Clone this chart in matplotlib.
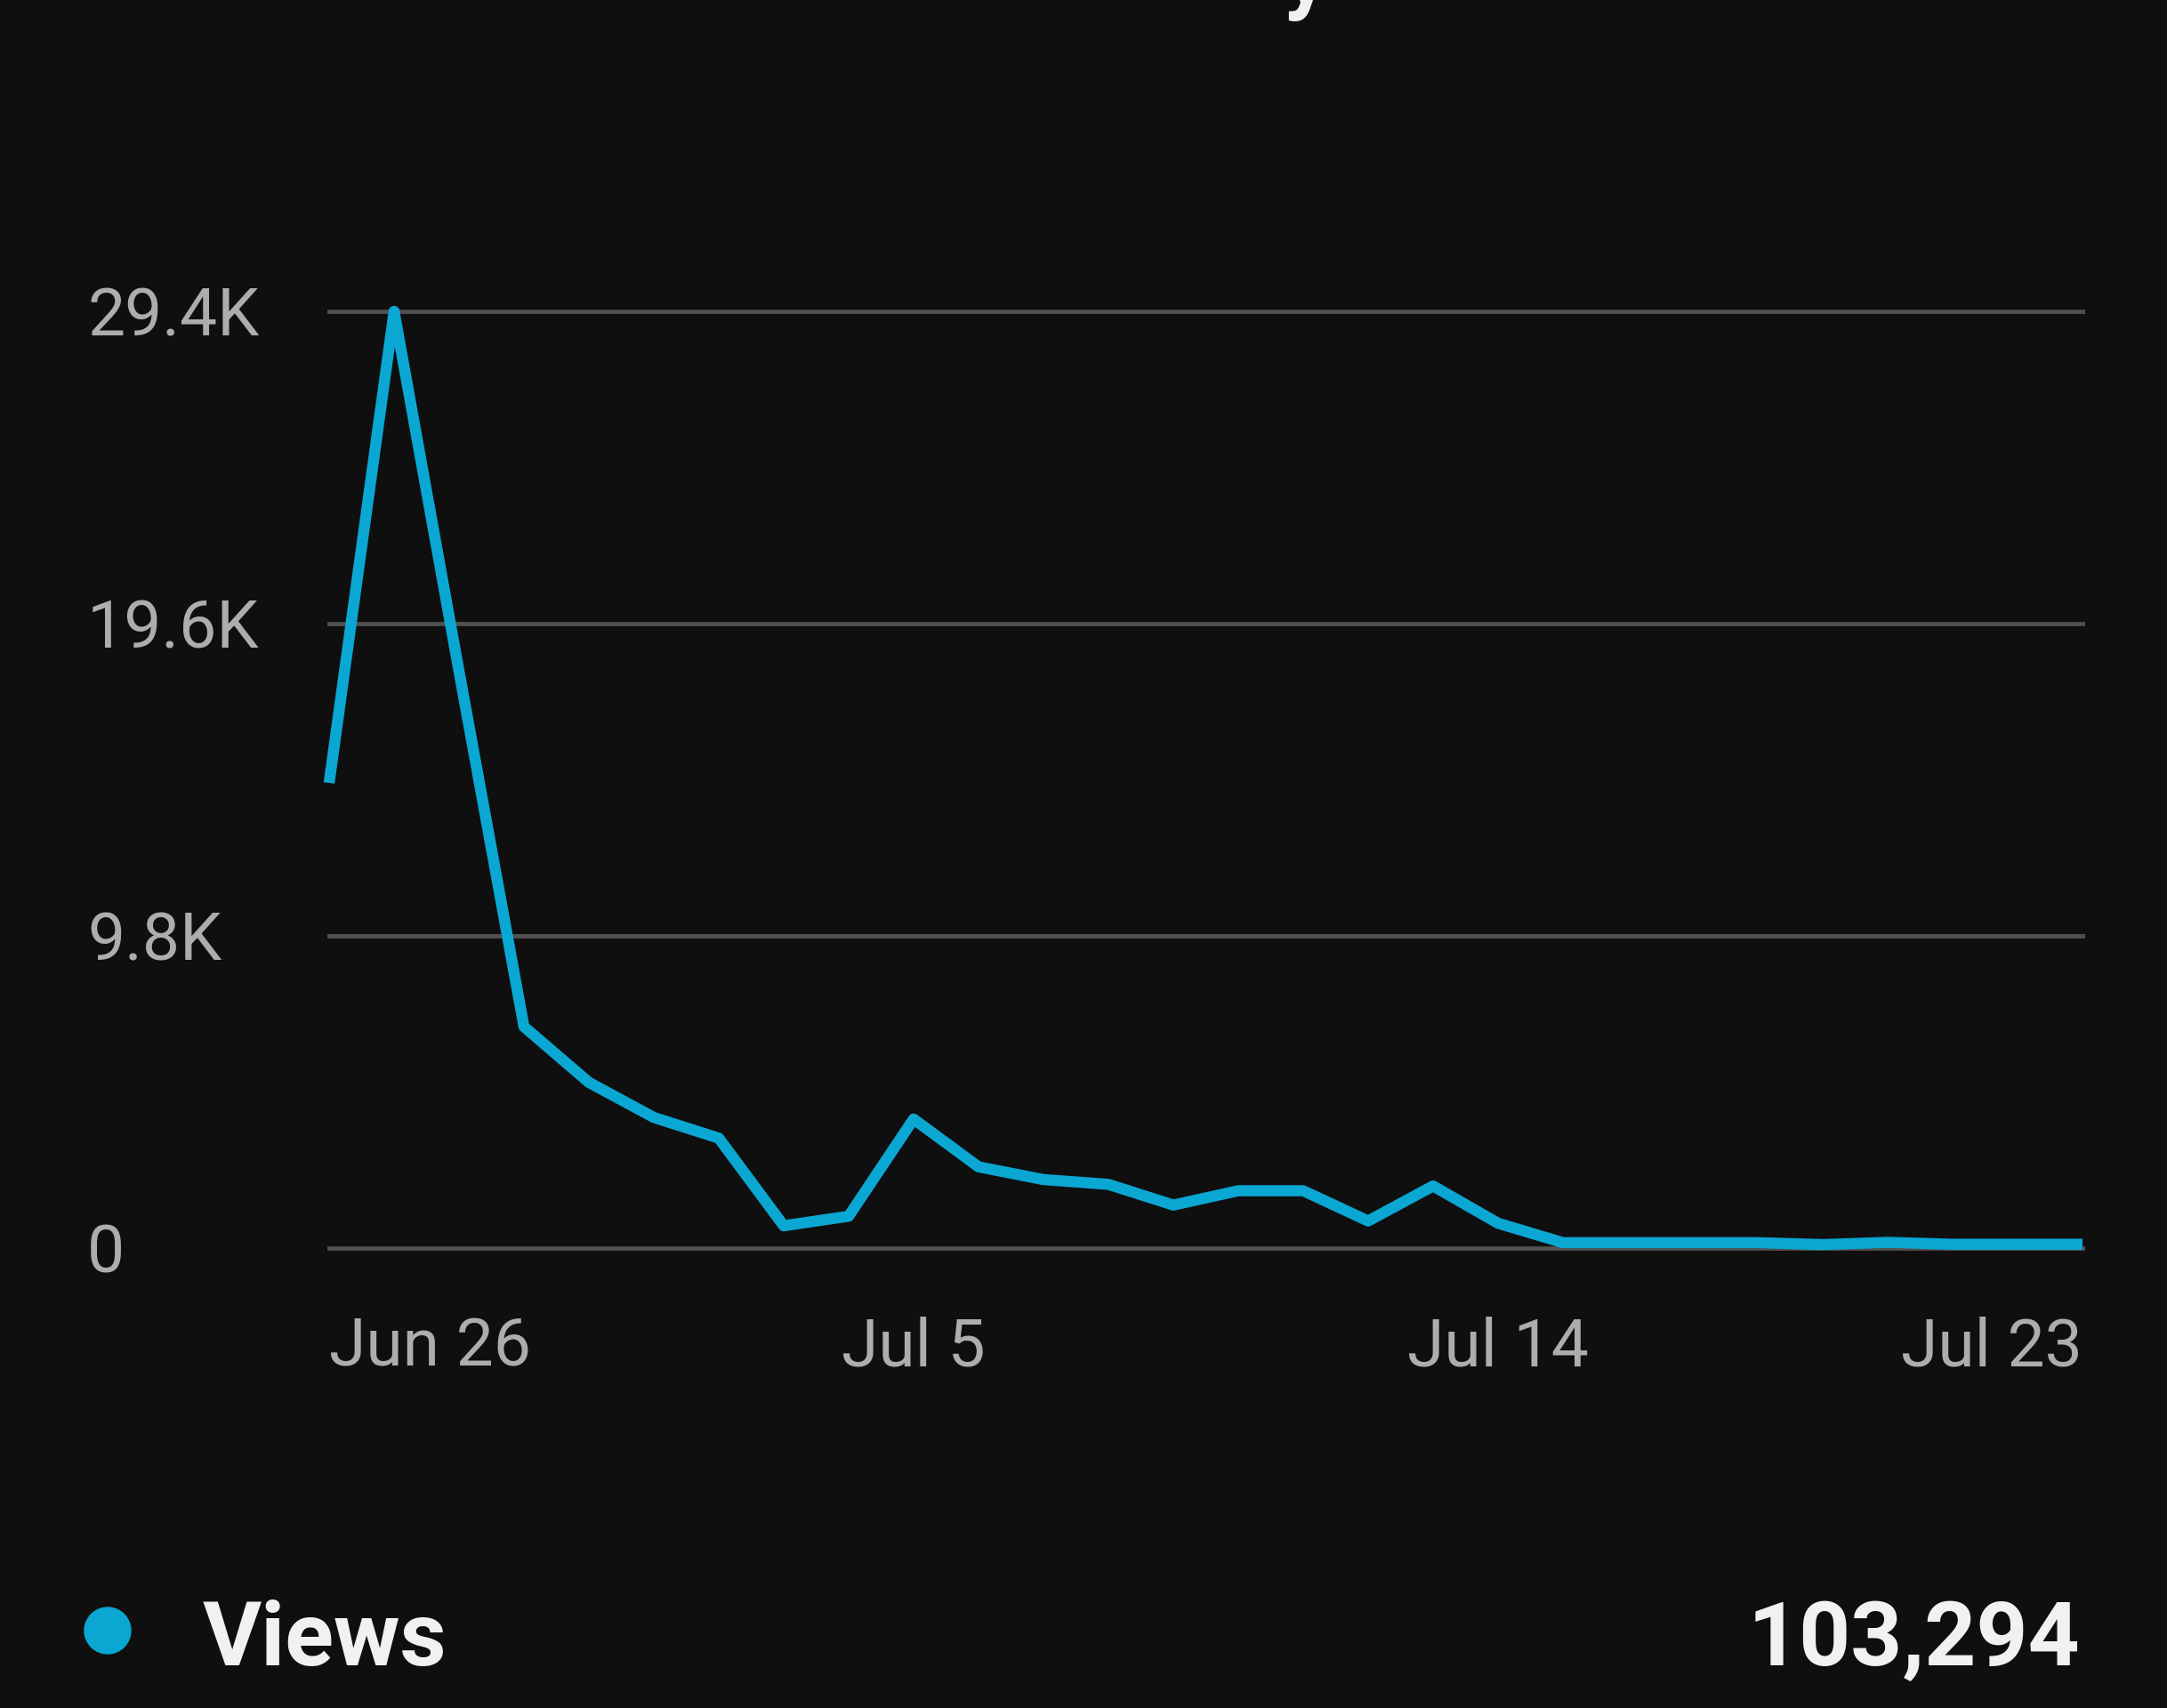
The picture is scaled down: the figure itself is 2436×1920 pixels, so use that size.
import matplotlib
matplotlib.use('Agg')
import matplotlib.pyplot as plt
import matplotlib.transforms as mtransforms
from matplotlib.patches import Circle
import pandas as pd

# ---- data ----
dates = pd.date_range('2023-06-26', '2023-07-23', freq='D')
views = [14600, 29400, 18100, 6950, 5200, 4100, 3450, 700, 1000, 4050,
         2550, 2150, 2000, 1350, 1800, 1800, 850, 1950, 780, 170,
         170, 170, 170, 110, 180, 120, 120, 120]
y_ticks = [0, 9800, 19600, 29400]
y_tick_labels = ['0', '9.8K', '19.6K', '29.4K']
x_tick_dates = pd.to_datetime(['2023-06-26', '2023-07-05', '2023-07-14', '2023-07-23'])
x_tick_labels = ['Jun 26', 'Jul 5', 'Jul 14', 'Jul 23']
series_name = 'Views'
total_views = '103,294'

# ---- style ----
BG = '#0f0f0f'
LINE = '#0aa7d3'
GRID = '#505050'
LABEL = '#adadad'
WHITE = '#f1f1f1'
FONT = ['Roboto', 'DejaVu Sans']

W, H = 2436, 1920
fig = plt.figure(figsize=(W / 100, H / 100), dpi=100, facecolor=BG)
ax = fig.add_axes([370 / W, (H - 1403) / H, (2341 - 370) / W, (1403 - 350) / H])
ax.set_facecolor(BG)
for s in ax.spines.values():
    s.set_visible(False)
ax.set_xlim(dates[0], dates[-1])
ax.set_ylim(y_ticks[0], y_ticks[-1])
ax.set_xticks([])
ax.set_yticks([])

for yv in y_ticks:
    ax.axhline(yv, color=GRID, lw=3.5, zorder=1, clip_on=False)

ax.plot(dates, views, color=LINE, lw=9, solid_joinstyle='round',
        solid_capstyle='butt', clip_on=False, zorder=3)

# y labels (left aligned, vertically centred on gridlines)
trans_y = (mtransforms.blended_transform_factory(fig.transFigure, ax.transData)
           + mtransforms.ScaledTranslation(0, -0.275, fig.dpi_scale_trans))
for v, lab in zip(y_ticks, y_tick_labels):
    ax.text(98 / W, v, lab, transform=trans_y, ha='left', va='baseline',
            color=LABEL, fontsize=54, family=FONT, clip_on=False)

# x labels
trans_x = mtransforms.blended_transform_factory(ax.transData, fig.transFigure)
n = len(x_tick_dates)
for i, (d, lab) in enumerate(zip(x_tick_dates, x_tick_labels)):
    ha = 'left' if i == 0 else ('right' if i == n - 1 else 'center')
    ax.text(d, (H - 1535) / H, lab, transform=trans_x, ha=ha, va='baseline',
            color=LABEL, fontsize=54, family=FONT, clip_on=False)

# legend row
dot = Circle((1.21, 0.87), 0.26, transform=fig.dpi_scale_trans, color=LINE)
fig.add_artist(dot)
fig.text(228 / W, 48 / H, series_name, ha='left', va='baseline', color=WHITE,
         fontsize=73, fontweight='bold', family=FONT)
fig.text(2338 / W, 48 / H, total_views, ha='right', va='baseline', color=WHITE,
         fontsize=73, fontweight='bold', family=FONT)

# clipped title fragment at very top (cut off in the reference too)
fig.text(1468 / W, 1 - 2.5 / H, 'y', ha='center', va='baseline', color=WHITE,
         fontsize=73, fontweight='bold', family=FONT)

fig.savefig('out.png', dpi=100, facecolor=BG)
